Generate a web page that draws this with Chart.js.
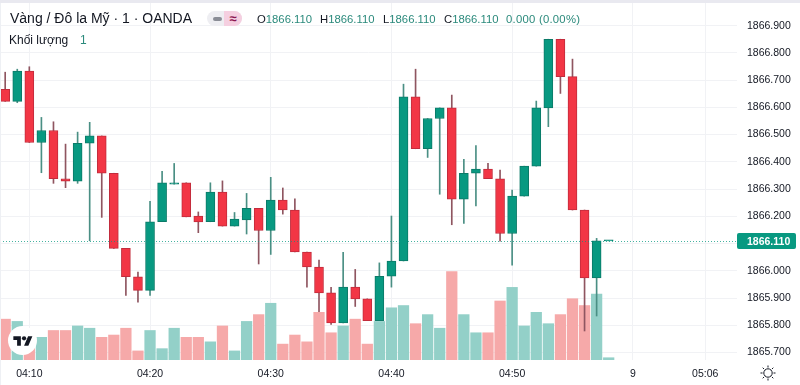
<!DOCTYPE html>
<html>
<head>
<meta charset="utf-8">
<title>Vàng / Đô la Mỹ</title>
<script src="https://cdn.jsdelivr.net/npm/chart.js@4"></script>
<style>
  html, body { margin: 0; padding: 0; background: #fff; }
  #wrap { position: relative; width: 800px; height: 385px; overflow: hidden; font-family: "Liberation Sans", Arial, sans-serif; }
  #topband { position: absolute; left: 0; top: 0; width: 800px; height: 3px; background: #e9e9f0; }
  #leftband { position: absolute; left: 0; top: 3px; width: 1px; height: 382px; background: #eef0f4; }
  canvas { position: absolute; left: 0; top: 0; }
  .txt { position: absolute; white-space: nowrap; color: #131722; }
  .ohlc { top: 13px; font-size: 11.3px; }
  .up { color: #2b8a7c; }
  #chip { position: absolute; left: 207px; top: 11px; width: 35px; height: 15px; border-radius: 8px; overflow: hidden; background: #eeeef2; }
  #chip i { position: absolute; left: 6px; top: 6px; width: 9px; height: 4px; border-radius: 2px; background: #8a8d96; }
  #chip b { position: absolute; left: 17px; top: 0; width: 18px; height: 15px; background: #f5cfe0; color: #8c1550; font: bold 13px/15px "Liberation Sans", sans-serif; text-align: center; }
  #logo { position: absolute; left: 8px; top: 326px; width: 29px; height: 29px; border-radius: 50%; background: #fff; }
  #logo svg { position: absolute; left: 4.5px; top: 8px; }
  #sun { position: absolute; left: 760px; top: 365px; }
</style>
</head>
<body>
<div id="wrap">
  <canvas id="chart" width="800" height="385"></canvas>
  <div id="topband"></div>
  <div id="leftband"></div>
  <div class="txt" style="left:10px;top:10px;font-size:14px">Vàng / Đô la Mỹ · 1 · OANDA</div>
  <div id="chip"><i></i><b>≈</b></div>
  <div class="txt ohlc" style="left:257px">O<span class="up">1866.110</span></div>
  <div class="txt ohlc" style="left:320px">H<span class="up">1866.110</span></div>
  <div class="txt ohlc" style="left:383px">L<span class="up">1866.110</span></div>
  <div class="txt ohlc" style="left:444px">C<span class="up">1866.110</span></div>
  <div class="txt ohlc up" style="left:506px;letter-spacing:.25px">0.000 (0.00%)</div>
  <div class="txt" style="left:9px;top:33px;font-size:12px">Khối lượng</div>
  <div class="txt up" style="left:80px;top:33px;font-size:12px">1</div>
  <div id="logo">
    <svg width="20" height="15" viewBox="0 0 36 28"><path d="M14 22H7V11H0V4h14v18zM28 22h-8l7.5-18h8L28 22z" fill="#131722"/><circle cx="20" cy="8" r="4" fill="#131722"/></svg>
  </div>
  <svg id="sun" width="16" height="16" viewBox="0 0 16 16" fill="none" stroke="#131722" stroke-width="1">
    <circle cx="8" cy="8" r="4.2"/>
    <path d="M8 .5v2M8 13.5v2M.5 8h2M13.5 8h2M2.7 2.7l1.4 1.4M11.9 11.9l1.4 1.4M2.7 13.3l1.4-1.4M11.9 4.1l1.4-1.4"/>
  </svg>
</div>
<script>
// minutes after 04:10, one candle a minute
const minutes = [-2,-1,0,1,2,3,4,5,6,7,8,9,10,11,12,13,14,15,16,17,18,19,20,21,22,23,24,25,26,27,28,29,30,31,32,33,34,35,36,37,38,39,40,41,42,43,44,45,46,47,48];
const opens = [1866.666,1866.622,1866.733,1866.471,1866.515,1866.338,1866.329,1866.468,1866.495,1866.358,1866.082,1865.978,1865.928,1866.180,1866.318,1866.323,1866.201,1866.180,1866.289,1866.164,1866.187,1866.229,1866.148,1866.260,1866.223,1866.069,1866.014,1865.919,1865.809,1865.940,1865.897,1865.817,1865.980,1866.036,1866.639,1866.448,1866.559,1866.598,1866.263,1866.358,1866.373,1866.338,1866.137,1866.274,1866.384,1866.598,1866.850,1866.713,1866.223,1865.974,1866.110];
const highs = [1866.729,1866.740,1866.749,1866.563,1866.547,1866.465,1866.509,1866.545,1866.495,1866.358,1866.082,1865.995,1866.255,1866.365,1866.394,1866.323,1866.216,1866.323,1866.330,1866.214,1866.284,1866.229,1866.343,1866.304,1866.264,1866.069,1866.039,1865.939,1866.068,1866.005,1865.897,1866.029,1866.201,1866.685,1866.740,1866.559,1866.598,1866.645,1866.409,1866.460,1866.394,1866.370,1866.296,1866.384,1866.623,1866.850,1866.850,1866.777,1866.223,1866.119,1866.110];
const lows = [1866.622,1866.617,1866.471,1866.360,1866.321,1866.305,1866.321,1866.110,1866.196,1866.082,1865.910,1865.885,1865.910,1866.180,1866.318,1866.198,1866.140,1866.180,1866.164,1866.164,1866.135,1866.025,1866.060,1866.208,1866.069,1865.940,1865.850,1865.803,1865.809,1865.869,1865.817,1865.817,1865.940,1866.036,1866.448,1866.416,1866.281,1866.169,1866.174,1866.238,1866.338,1866.109,1866.021,1866.274,1866.384,1866.529,1866.651,1866.223,1865.779,1865.834,1866.110];
const closes = [1866.622,1866.733,1866.471,1866.515,1866.338,1866.329,1866.468,1866.495,1866.358,1866.082,1865.978,1865.928,1866.180,1866.323,1866.323,1866.198,1866.179,1866.289,1866.164,1866.190,1866.229,1866.148,1866.260,1866.223,1866.069,1866.014,1865.919,1865.809,1865.940,1865.897,1865.817,1865.980,1866.036,1866.639,1866.448,1866.559,1866.598,1866.263,1866.358,1866.373,1866.338,1866.137,1866.274,1866.384,1866.598,1866.850,1866.713,1866.223,1865.974,1866.110,1866.110];
const volumes = [18,17,10,10,13,13,15,14,10,11,14,4,13,5,14,10,10,8,15,4,17,20,25,7,11,8,21,12,15,18,7,17,23,24,16,20,14,39,20,12,12,26,32,15,21,16,20,27,24,29,1];

const lastPrice = 1866.110;
const priceTicks = [1865.7,1865.8,1865.9,1866.0,1866.2,1866.3,1866.4,1866.5,1866.6,1866.7,1866.8,1866.9];
const gridPrices = [1865.7,1865.8,1865.9,1866.0,1866.1,1866.2,1866.3,1866.4,1866.5,1866.6,1866.7,1866.8,1866.9];
const timeTicks = [0,10,20,30,40,50,56];
const timeLabels = ['04:10','04:20','04:30','04:40','04:50','9','05:06'];

const GREEN = '#089981', RED = '#f23645';
const isUp = minutes.map((m, i) => closes[i] >= opens[i]);

// last price dotted line + tag on the price axis
const priceTag = {
  id: 'priceTag',
  afterDatasetsDraw(chart) {
    const { ctx, chartArea, scales } = chart;
    const y = Math.round(scales.y.getPixelForValue(lastPrice));
    ctx.save();
    ctx.strokeStyle = 'rgba(8,153,129,.75)';
    ctx.setLineDash([1, 2]);
    ctx.beginPath();
    ctx.moveTo(chartArea.left, y + .5);
    ctx.lineTo(chartArea.right, y + .5);
    ctx.stroke();
    ctx.setLineDash([]);
    ctx.fillStyle = GREEN;
    ctx.beginPath();
    ctx.roundRect(chartArea.right, y - 8, 59, 16, 2);
    ctx.fill();
    ctx.fillStyle = '#fff';
    ctx.font = 'bold 10.5px "Liberation Sans", sans-serif';
    ctx.textBaseline = 'middle';
    ctx.fillText(lastPrice.toFixed(3), chartArea.right + 10, y + 1);
    ctx.restore();
  }
};

new Chart(document.getElementById('chart'), {
  type: 'bar',
  data: {
    datasets: [
      {
        yAxisID: 'y1',
        order: 3,
        data: minutes.map((m, i) => ({ x: m, y: volumes[i] })),
        barThickness: 10.6,
        backgroundColor: isUp.map(u => u ? '#93d0c8' : '#f6a9a9')
      },
      {
        yAxisID: 'y',
        order: 2,
        data: minutes.map((m, i) => ({ x: m, y: [lows[i], highs[i]] })),
        barThickness: 1,
        backgroundColor: isUp.map(u => u ? '#4a8f84' : '#8f5560')
      },
      {
        yAxisID: 'y',
        order: 1,
        data: minutes.map((m, i) => ({ x: m, y: [opens[i], closes[i]] })),
        barThickness: 9,
        minBarLength: 1,
        borderWidth: 1,
        borderSkipped: false,
        backgroundColor: isUp.map(u => u ? GREEN : RED),
        borderColor: isUp.map(u => u ? '#0b7a68' : '#c22c3c')
      }
    ]
  },
  plugins: [priceTag],
  options: {
    responsive: false,
    animation: false,
    events: [],
    layout: { padding: { top: 3 } },
    plugins: { legend: { display: false }, tooltip: { enabled: false } },
    datasets: { bar: { grouped: false } },
    scales: {
      x: {
        type: 'linear',
        offset: false,
        min: -2.43,
        max: 58.63,
        grid: { color: '#f1f2f5', drawTicks: false, offset: false },
        border: { display: false },
        afterFit: s => { s.height = 25; s.paddingLeft = 0; s.paddingRight = 0; },
        afterBuildTicks: s => { s.ticks = timeTicks.map(v => ({ value: v })); },
        ticks: {
          autoSkip: false,
          maxRotation: 0,
          padding: 8,
          color: '#131722',
          font: { family: '"Liberation Sans", sans-serif', size: 10.5 },
          callback: v => timeLabels[timeTicks.indexOf(v)]
        }
      },
      y: {
        position: 'right',
        min: 1865.6725,
        max: 1866.983,
        grid: { color: '#f1f2f5', drawTicks: false },
        border: { display: false },
        afterFit: s => { s.width = 63; s.paddingTop = 0; s.paddingBottom = 0; },
        afterBuildTicks: s => { s.ticks = gridPrices.map(v => ({ value: v })); },
        ticks: {
          autoSkip: false,
          padding: 10,
          color: '#131722',
          font: { family: '"Liberation Sans", sans-serif', size: 10.5 },
          callback: v => priceTicks.includes(v) ? v.toFixed(3) : ''
        }
      },
      y1: { display: false, min: 0, max: 157.3 }
    }
  }
});
</script>
</body>
</html>
